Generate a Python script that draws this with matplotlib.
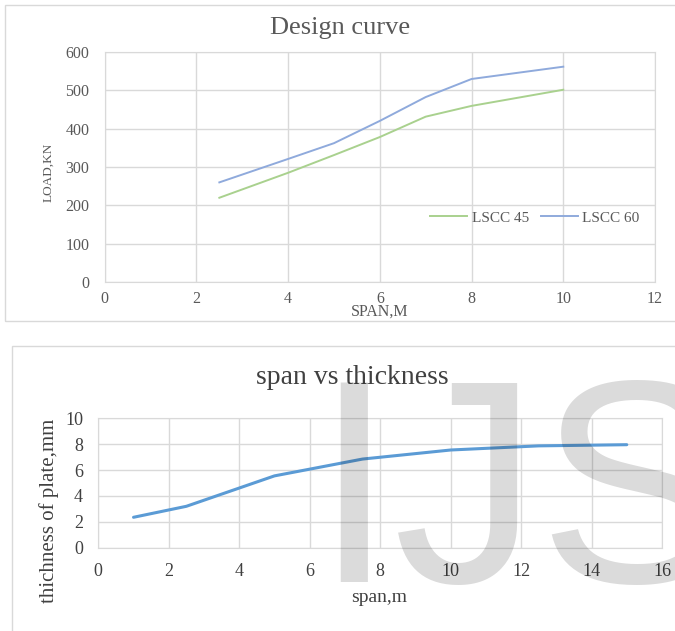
import numpy as np
import matplotlib.pyplot as plt
from matplotlib.patches import Rectangle

# top chart data
span_top = [2.5, 4, 5, 6, 7, 8, 10]
lscc45 = [220, 285, 331, 378, 431, 459, 501]
lscc60 = [260, 321, 362, 420, 482, 529, 561]

# bottom chart data
span_bot = [1, 2.5, 5, 7.5, 10, 12.5, 15]
thick = [2.35, 3.2, 5.55, 6.85, 7.55, 7.87, 7.96]

W, H = 675, 631
fig = plt.figure(figsize=(W / 100, H / 100), dpi=100)

def fx(px):
    return px / W

def fy(py):
    return 1 - py / H

serif = 'Liberation Serif'
grey = '#595959'
dark = '#404040'
grid = '#d9d9d9'

# panel frames
fig.patches.append(Rectangle((fx(5), fy(321)), fx(680) - fx(5), fy(5) - fy(321),
                             transform=fig.transFigure, fill=False, ec=grid, lw=1))
fig.patches.append(Rectangle((fx(12), fy(640)), fx(680) - fx(12), fy(346) - fy(640),
                             transform=fig.transFigure, fill=False, ec=grid, lw=1))

# ---- top chart
ax = fig.add_axes([fx(104.7), fy(282.3), fx(655) - fx(104.7), fy(51.7) - fy(282.3)])
ax.plot(span_top, lscc45, color='#a9d18e', lw=1.4, label='LSCC 45')
ax.plot(span_top, lscc60, color='#8faadc', lw=1.4, label='LSCC 60')
ax.set_xlim(0, 12)
ax.set_ylim(0, 600)
ax.set_xticks(np.arange(0, 13, 2))
ax.set_yticks(np.arange(0, 601, 100))
ax.grid(True, color=grid, lw=1)
ax.set_axisbelow(True)
for s in ax.spines.values():
    s.set_color(grid)
ax.tick_params(length=0, labelcolor=grey, labelsize=11.5)
ax.tick_params(axis='y', pad=11)
ax.tick_params(axis='x', pad=6)
for t in ax.get_xticklabels() + ax.get_yticklabels():
    t.set_family(serif)
leg = ax.legend(loc='center', bbox_to_anchor=(fx(535), fy(217.7)),
                bbox_transform=fig.transFigure, ncol=2, frameon=False,
                handlelength=2.4, handletextpad=0.3, columnspacing=0.8,
                prop={'family': serif, 'size': 11})
for t in leg.get_texts():
    t.set_color(grey)

fig.text(fx(340), fy(28), 'Design curve', ha='center', va='center',
         family=serif, size=19, color=grey)
fig.text(fx(380), fy(312), 'SPAN,M', ha='center', va='center',
         family=serif, size=11.5, color=grey)
fig.text(fx(48), fy(172), 'LOAD,KN', ha='center', va='center', rotation=90,
         family=serif, size=9.5, color=grey)

# ---- bottom chart
ax2 = fig.add_axes([fx(98.3), fy(547.7), fx(662) - fx(98.3), fy(418.3) - fy(547.7)])
ax2.plot(span_bot, thick, color='#5b9bd5', lw=2.2, solid_joinstyle='round',
         solid_capstyle='round')
ax2.set_xlim(0, 16)
ax2.set_ylim(0, 10)
ax2.set_xticks(np.arange(0, 17, 2))
ax2.set_yticks(np.arange(0, 11, 2))
ax2.grid(True, color=grid, lw=1)
ax2.set_axisbelow(True)
for s in ax2.spines.values():
    s.set_color(grid)
ax2.tick_params(length=0, labelcolor=dark, labelsize=13)
ax2.tick_params(axis='y', pad=11)
ax2.tick_params(axis='x', pad=11)
for t in ax2.get_xticklabels() + ax2.get_yticklabels():
    t.set_family(serif)

fig.text(fx(352), fy(378), 'span vs thickness', ha='center', va='center',
         family=serif, size=20, color=dark)
fig.text(fx(379), fy(598), 'span,m', ha='center', va='center',
         family=serif, size=14, color=dark)
fig.text(fx(49), fy(511), 'thichness of plate,mm', ha='center', va='center',
         rotation=90, family=serif, size=15, color=dark)

# watermark
fig.text(fx(313), fy(582), 'IJS', ha='left', va='baseline',
         family='Liberation Sans', size=209, color='black', alpha=0.14, zorder=10)

fig.savefig('out.png', dpi=100)
